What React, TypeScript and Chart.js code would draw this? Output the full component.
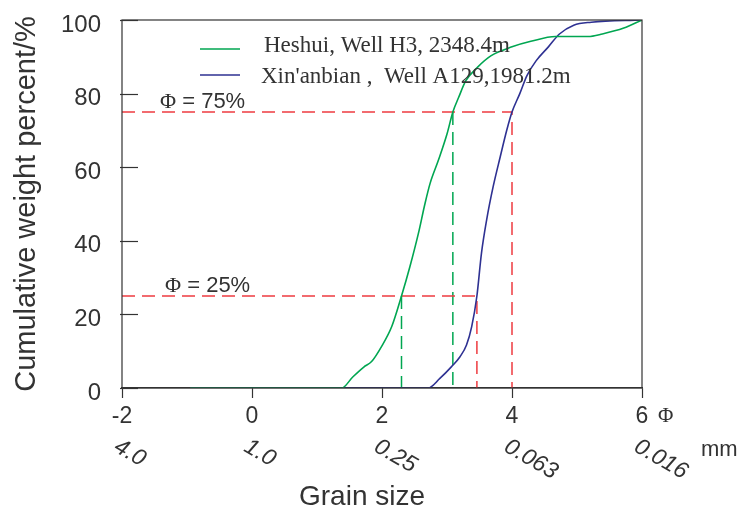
import React, { useEffect, useRef } from "react";
import { Chart, registerables } from "chart.js";

Chart.register(...registerables);

// Grain size axis (phi units) and matching diameters in mm
const PHI_TICKS = [-2, 0, 2, 4, 6];
const MM_LABELS = ["4.0", "1.0", "0.25", "0.063", "0.016"];

// Cumulative curves: phi value and cumulative weight percent
const HESHUI_PHI = [-0.95, 1.38, 1.55, 1.72, 1.84, 1.99, 2.15, 2.3, 2.43, 2.56, 2.66, 2.74, 2.87, 3.0, 3.09, 3.18, 3.29, 3.46, 3.68, 4.0, 4.29, 4.67, 5.17, 5.39, 5.72, 6.0];
const HESHUI_PCT = [0, 0, 3, 5.7, 7.2, 11.2, 16.7, 25, 33, 42, 50, 55.6, 62, 69, 75, 79, 83.5, 87, 90.3, 92.7, 94.2, 95.5, 95.5, 96.2, 97.8, 100];

const XIN_PHI = [-0.95, 2.71, 2.89, 3.07, 3.2, 3.3, 3.38, 3.46, 3.53, 3.61, 3.71, 3.82, 3.92, 4.0, 4.12, 4.23, 4.37, 4.56, 4.73, 4.95, 5.22, 6.0];
const XIN_PCT = [0, 0, 2.6, 5.8, 8.5, 11.7, 16.7, 25, 36.6, 45.7, 54.7, 62.9, 70.1, 75, 80, 84.9, 88.9, 92.7, 96.2, 98.6, 99.4, 100];

// Percentile levels and where each curve crosses them
const LEVELS = [25, 75];
const HESHUI_CROSS = [2.3, 3.09];
const XIN_CROSS = [3.46, 4.0];

const SERIES_NAMES = ["Heshui, Well H3, 2348.4m", "Xin'anbian ,  Well A129,1981.2m"];
const LEVEL_LABELS = ["25%", "75%"];

const GREEN = "#00A651";
const BLUE = "#2E3192";
const RED = "#EE3B40";
const INK = "#333333";
const SANS = "'Liberation Sans', Arial, sans-serif";
const SERIF = "'Liberation Serif', 'Times New Roman', serif";

const toPoints = (xs: number[], ys: number[]) => xs.map((x, i) => ({ x, y: ys[i] }));

const overlayPlugin = {
  id: "grainOverlay",
  afterDraw(chart: any) {
    const { ctx, chartArea: a, scales } = chart;
    const x = scales.x;
    const y = scales.y;
    ctx.save();

    // plot frame
    ctx.strokeStyle = INK;
    ctx.lineWidth = 1.2;
    ctx.strokeRect(a.left, a.top, a.right - a.left, a.bottom - a.top);

    // inward tick marks on the percent axis
    y.ticks.forEach((t: any) => {
      const py = Math.round(y.getPixelForValue(t.value)) + 0.5;
      ctx.beginPath();
      ctx.moveTo(a.left - 2, py);
      ctx.lineTo(a.left + 16, py);
      ctx.stroke();
    });

    // legend
    const legendColors = [GREEN, BLUE];
    const lineY = [49, 75];
    const textY = [52, 83];
    const textX = [264, 261];
    ctx.lineWidth = 1.6;
    ctx.font = `23px ${SERIF}`;
    ctx.fillStyle = INK;
    ctx.textAlign = "left";
    ctx.textBaseline = "alphabetic";
    SERIES_NAMES.forEach((name, i) => {
      ctx.strokeStyle = legendColors[i];
      ctx.beginPath();
      ctx.moveTo(200, lineY[i]);
      ctx.lineTo(240, lineY[i]);
      ctx.stroke();
      ctx.fillText(name, textX[i], textY[i]);
    });

    // percentile labels above the dashed guides
    LEVELS.forEach((lv, i) => {
      const py = y.getPixelForValue(lv) - 4;
      const px = i === 0 ? 165 : 160;
      ctx.font = `22px ${SERIF}`;
      ctx.fillText("\u03A6", px, py);
      const w = ctx.measureText("\u03A6").width;
      ctx.font = `22px ${SANS}`;
      ctx.fillText(" = " + LEVEL_LABELS[i], px + w, py);
    });

    // phi unit after the last tick label
    ctx.font = `21px ${SERIF}`;
    ctx.textBaseline = "middle";
    ctx.fillText("\u03A6", x.getPixelForValue(6) + 16, 416);

    // diameters in mm, slanted under the phi ticks
    ctx.font = `italic 23px ${SANS}`;
    PHI_TICKS.forEach((v, i) => {
      const px = x.getPixelForValue(v);
      ctx.save();
      ctx.translate(px - 6, 445);
      ctx.rotate((30 * Math.PI) / 180);
      ctx.fillText(MM_LABELS[i], 0, 0);
      ctx.restore();
    });

    ctx.font = `22px ${SANS}`;
    ctx.textBaseline = "alphabetic";
    ctx.fillText("mm", 701, 456);

    // axis titles
    ctx.font = `28px ${SANS}`;
    ctx.textAlign = "center";
    ctx.fillText("Grain size", (a.left + a.right) / 2 - 20, 505);

    ctx.save();
    ctx.font = `29px ${SANS}`;
    ctx.translate(27, (a.top + a.bottom) / 2);
    ctx.rotate(-Math.PI / 2);
    ctx.textBaseline = "middle";
    ctx.fillText("Cumulative weight percent/%", 0, 0);
    ctx.restore();

    ctx.restore();
  },
};

export default function App() {
  const canvasRef = useRef<HTMLCanvasElement | null>(null);

  useEffect(() => {
    if (!canvasRef.current) return;
    Chart.defaults.font.family = SANS;
    Chart.defaults.color = INK;

    const dashed = {
      showLine: true,
      pointRadius: 0,
      borderWidth: 1.5,
      borderDash: [13, 7],
      tension: 0,
      fill: false,
    };

    const chart = new Chart(canvasRef.current, {
      type: "scatter",
      data: {
        datasets: [
          {
            label: SERIES_NAMES[0],
            data: toPoints(HESHUI_PHI, HESHUI_PCT),
            showLine: true,
            borderColor: GREEN,
            borderWidth: 1.6,
            pointRadius: 0,
            cubicInterpolationMode: "monotone",
          },
          {
            label: SERIES_NAMES[1],
            data: toPoints(XIN_PHI, XIN_PCT),
            showLine: true,
            borderColor: BLUE,
            borderWidth: 1.6,
            pointRadius: 0,
            cubicInterpolationMode: "monotone",
          },
          ...LEVELS.map((lv, i) => ({
            ...dashed,
            label: "P" + lv,
            borderColor: RED,
            data: [
              { x: -2, y: lv },
              { x: XIN_CROSS[i], y: lv },
              { x: XIN_CROSS[i], y: 0 },
            ],
          })),
          ...LEVELS.map((lv, i) => ({
            ...dashed,
            label: "G" + lv,
            borderColor: GREEN,
            data: [
              { x: HESHUI_CROSS[i], y: lv },
              { x: HESHUI_CROSS[i], y: 0 },
            ],
          })),
        ] as any,
      },
      options: {
        responsive: false,
        devicePixelRatio: 1,
        animation: false,
        layout: { padding: { top: 20, right: 101, left: 0, bottom: 0 } },
        plugins: {
          legend: { display: false },
          tooltip: { enabled: false },
        },
        scales: {
          x: {
            type: "linear",
            min: -2,
            max: 6,
            ticks: {
              stepSize: 2,
              padding: 5,
              color: INK,
              font: { size: 23, family: SANS },
              maxRotation: 0,
            },
            grid: {
              drawOnChartArea: false,
              drawTicks: true,
              tickLength: 10,
              tickColor: INK,
              tickWidth: 1.2,
            },
            border: { display: true, color: INK, width: 1.2 },
            afterFit: (s: any) => {
              s.height = 119;
              s.paddingLeft = 0;
              s.paddingRight = 0;
            },
          },
          y: {
            type: "linear",
            min: 0,
            max: 100,
            ticks: {
              stepSize: 20,
              padding: 21,
              labelOffset: 5,
              color: INK,
              font: { size: 24, family: SANS },
            },
            grid: { display: false, drawTicks: false },
            border: { display: false },
            afterFit: (s: any) => {
              s.width = 122;
              s.paddingTop = 0;
              s.paddingBottom = 0;
            },
          },
        },
      } as any,
      plugins: [overlayPlugin],
    });

    return () => chart.destroy();
  }, []);

  return (
    <div style={{ position: "absolute", left: 0, top: 0, width: 743, height: 507, background: "#fff" }}>
      <canvas ref={canvasRef} width={743} height={507} style={{ display: "block" }} />
    </div>
  );
}
